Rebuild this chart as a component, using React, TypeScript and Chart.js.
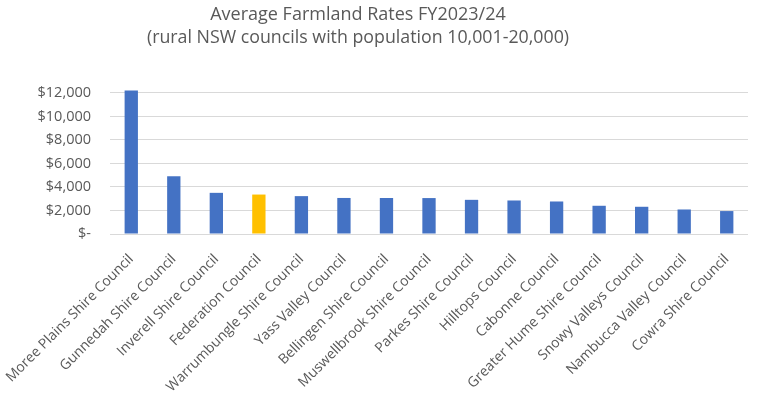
import React, { useEffect, useRef } from "react";
import { Chart, registerables } from "chart.js";

Chart.register(...registerables);

const titleLine = "Average Farmland Rates FY2023/24";
const subtitleLine = "(rural NSW councils with population 10,001-20,000)";

const councils = [
  "Moree Plains Shire Council",
  "Gunnedah Shire Council",
  "Inverell Shire Council",
  "Federation Council",
  "Warrumbungle Shire Council",
  "Yass Valley Council",
  "Bellingen Shire Council",
  "Muswellbrook Shire Council",
  "Parkes Shire Council",
  "Hilltops Council",
  "Cabonne Council",
  "Greater Hume Shire Council",
  "Snowy Valleys Council",
  "Nambucca Valley Council",
  "Cowra Shire Council",
];

const averageRates = [
  12200, 4910, 3500, 3355, 3220, 3065, 3060, 3055, 2905, 2850, 2765, 2400, 2315,
  2085, 1950,
];

const highlighted = ["Federation Council"];

const yTickValues = [0, 2000, 4000, 6000, 8000, 10000, 12000];

const BLUE = "#4472C4";
const GOLD = "#FFC000";
const TEXT = "#595959";
const GRID = "#D9D9D9";
const FONT = "'Open Sans', sans-serif";

const titlePlugin = {
  id: "twoLineTitle",
  afterDraw(chart: any) {
    const ctx = chart.ctx;
    ctx.save();
    ctx.fillStyle = TEXT;
    ctx.textAlign = "center";
    ctx.textBaseline = "alphabetic";
    ctx.font = `18px ${FONT}`;
    ctx.fillText(titleLine, 358, 20);
    ctx.font = `17.8px ${FONT}`;
    ctx.fillText(subtitleLine, 358, 43);
    ctx.restore();
  },
};

export default function App() {
  const canvasRef = useRef<HTMLCanvasElement | null>(null);

  useEffect(() => {
    const canvas = canvasRef.current;
    if (!canvas) return;
    const chart = new Chart(canvas, {
      type: "bar",
      data: {
        labels: councils,
        datasets: [
          {
            data: averageRates,
            backgroundColor: councils.map((c) =>
              highlighted.includes(c) ? GOLD : BLUE
            ),
            borderWidth: 0,
            barPercentage: 0.313,
            categoryPercentage: 1,
          },
        ],
      },
      plugins: [titlePlugin],
      options: {
        responsive: false,
        animation: false,
        layout: { padding: { left: 0, right: 16, top: 87, bottom: 0 } },
        plugins: {
          legend: { display: false },
          tooltip: { enabled: false },
          title: { display: false },
        },
        scales: {
          x: {
            grid: { display: false },
            border: { display: false },
            ticks: {
              color: TEXT,
              font: { family: FONT, size: 14 },
              minRotation: 45,
              maxRotation: 45,
              autoSkip: false,
              padding: 9,
            },
            afterFit: (scale: any) => {
              scale.height = 165;
              scale.paddingLeft = 0;
              scale.paddingRight = 0;
            },
          },
          y: {
            min: 0,
            max: 12500,
            border: { display: false },
            grid: { color: GRID, lineWidth: 1, drawTicks: false },
            ticks: {
              stepSize: 2000,
              color: TEXT,
              padding: 19,
              font: { family: FONT, size: 14.5 },
              callback: (v: any) =>
                Number(v) === 0 ? "$-" : "$" + Number(v).toLocaleString("en-US"),
            },
            afterBuildTicks: (scale: any) => {
              scale.ticks = yTickValues.map((value) => ({ value }));
            },
            afterFit: (scale: any) => {
              scale.width = 110;
            },
          },
        },
      },
    });
    return () => chart.destroy();
  }, []);

  return (
    <div
      style={{
        position: "absolute",
        left: 0,
        top: 0,
        width: 764,
        height: 399,
        background: "#ffffff",
      }}
    >
      <canvas ref={canvasRef} width={764} height={399} />
    </div>
  );
}
